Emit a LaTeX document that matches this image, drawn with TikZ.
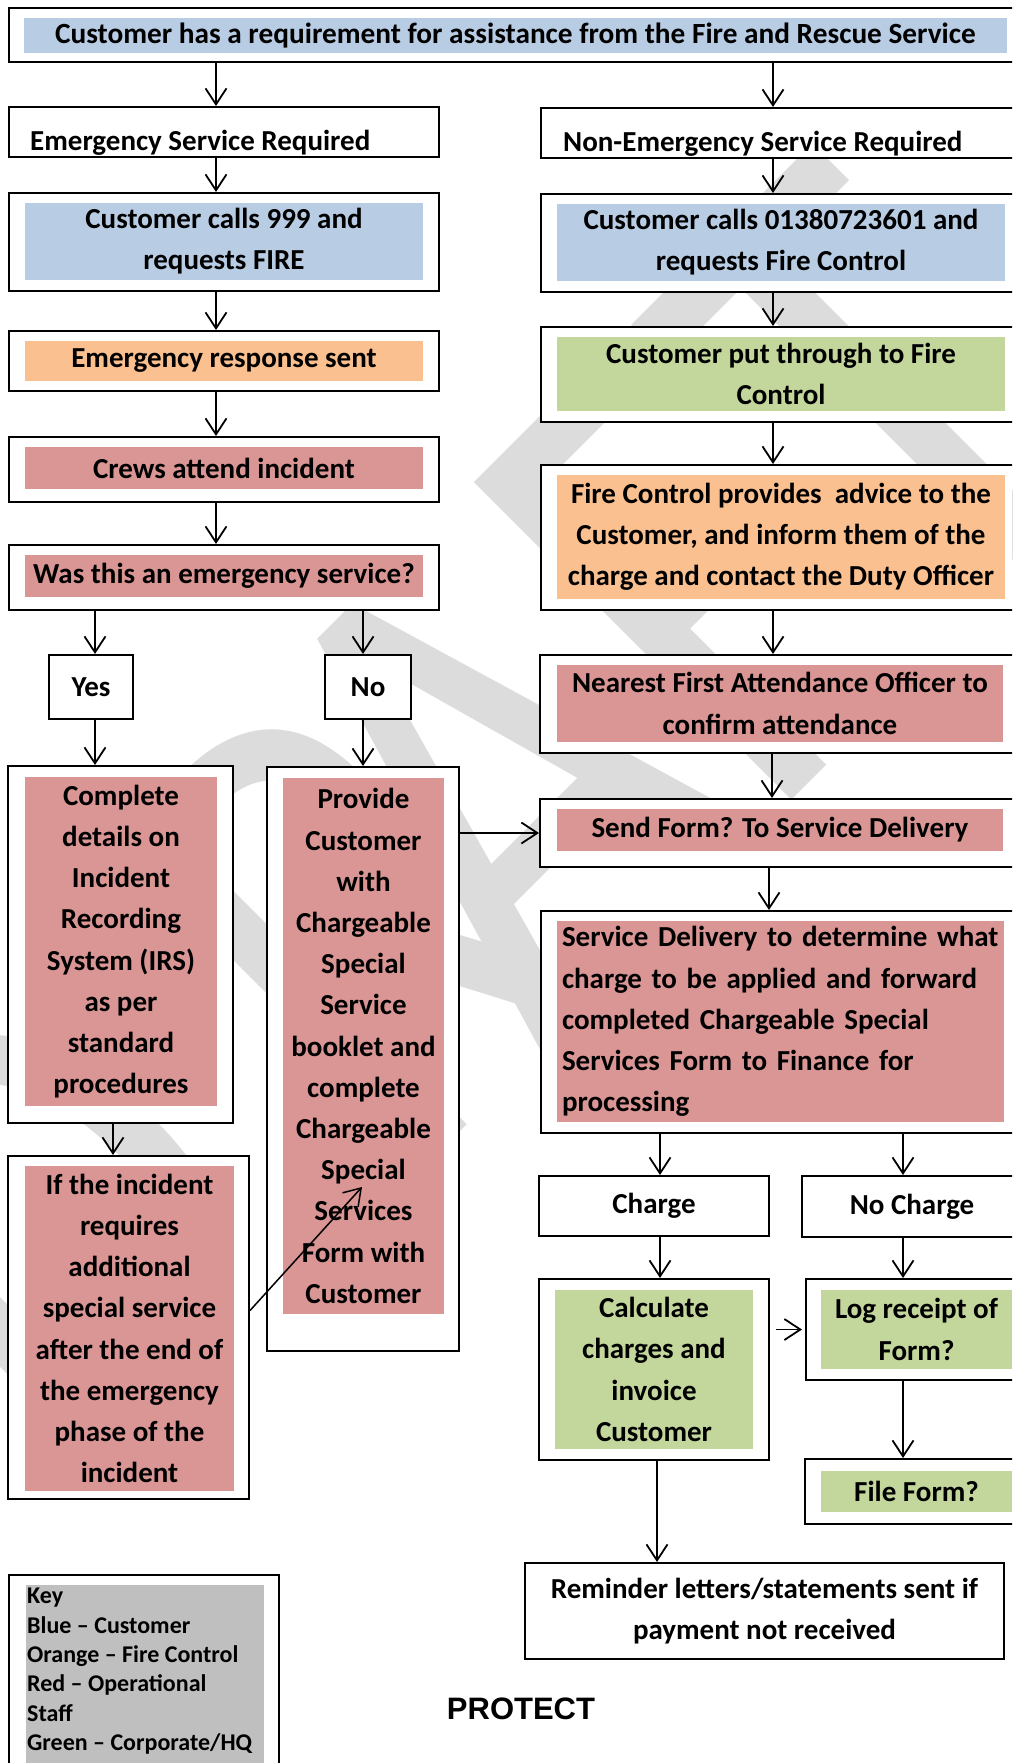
\documentclass[tikz,border=0pt]{standalone}
\usepackage{fontspec}
\setmainfont{Carlito}
\newfontfamily\arialfont{Liberation Sans}
\usetikzlibrary{arrows.meta,calc}
\definecolor{cblue}{HTML}{B8CCE4}
\definecolor{corange}{HTML}{FAC090}
\definecolor{cred}{HTML}{D99694}
\definecolor{cgreen}{HTML}{C3D69B}
\definecolor{ckey}{HTML}{BFBFBF}
\definecolor{wmgray}{HTML}{DCDCDC}
\newcommand\mainfs{\fontsize{29}{41.2}\selectfont\bfseries}
\newcommand\keyfs{\fontsize{24}{29.4}\selectfont\bfseries}
\tikzset{
  obox/.style={draw=black, line width=2pt, fill=white, inner sep=0pt},
  ibox/.style={inner sep=0pt, font=\mainfs, align=center},
  arr/.style={-{Straight Barb[length=16pt,width=21pt]}, line width=1.8pt},
}
\begin{document}
\begin{tikzpicture}[x=1pt,y=-1pt]
\useasboundingbox (0,0) rectangle (1012,1763);
\clip (0,0) rectangle (1012,1763);
\fill[white] (0,0) rectangle (1012,1763);
% watermark
\node[transform shape, rotate=45, xscale=5.53, yscale=7.0, text=wmgray, inner sep=0pt,
  font=\fontsize{100}{100}\selectfont\mdseries] (wm) at (452.1,822.7) {D\kern0.2em R\kern-0.2em AFT};
% column coordinates
\coordinate (cL) at (216,0);
\coordinate (cR) at (773,0);
\coordinate (cR2) at (772,0);
\coordinate (cR3) at (769,0);
\coordinate (cY) at (95,0);
\coordinate (cN) at (363,0);
\coordinate (cC) at (113,0);
\coordinate (cCh) at (660,0);
\coordinate (cNc) at (903,0);
\coordinate (cCa) at (657,0);
% top
\node[obox, minimum width=1007, minimum height=54] (top) at (512.5,35) {};
\node[ibox, fill=cblue, minimum width=983, minimum height=35] (topt) at (515.5,35.5) {\fontsize{29.3}{41.2}\selectfont Customer has a requirement for assistance from the Fire and Rescue Service};
% left column
\node[obox, minimum width=430, minimum height=50] (esr) at (224,132) {};
\begin{scope}
\clip (9,107) rectangle (439,156);
\node[font=\mainfs, anchor=base west, inner sep=0pt] (esrt) at (30,151) {Emergency Service Required};
\end{scope}
\node[obox, minimum width=430, minimum height=98] (c999) at (224,242) {};
\node[ibox, fill=cblue, minimum width=398, minimum height=77] (c999t) at (224,241.5) {Customer calls 999 and\\requests FIRE};
\node[obox, minimum width=430, minimum height=60] (resp) at (224,361) {};
\node[ibox, fill=corange, minimum width=398, minimum height=40] (respt) at (224,361) {Emergency response sent};
\node[obox, minimum width=430, minimum height=65] (crew) at (224,469.5) {};
\node[ibox, fill=cred, minimum width=398, minimum height=42] (crewt) at (224,468) {Crews attend incident};
\node[obox, minimum width=430, minimum height=65] (was) at (224,577.5) {};
\node[ibox, fill=cred, minimum width=398, minimum height=42] (wast) at (224,576) {Was this an emergency service?};
\node[obox, minimum width=84, minimum height=64, font=\mainfs] (yes) at (91,687) {Yes};
\node[obox, minimum width=86, minimum height=64, font=\mainfs] (no) at (368,687) {No};
\node[obox, minimum width=225, minimum height=357] (comp) at (120.5,944.5) {};
\node[ibox, fill=cred, minimum width=192, minimum height=329] (compt) at (121,941.5) {Complete\\details on\\Incident\\Recording\\System (IRS)\\as per\\standard\\procedures};
\node[obox, minimum width=192, minimum height=584] (prov) at (363,1059) {};
\node[ibox, fill=cred, minimum width=161, minimum height=536] (provt) at (363.5,1046) {Provide\\Customer\\with\\Chargeable\\Special\\Service\\booklet and\\complete\\Chargeable\\Special\\Services\\Form with\\Customer};
\node[obox, minimum width=241, minimum height=343] (ifb) at (128.5,1327.5) {};
\node[ibox, fill=cred, minimum width=209, minimum height=325] (ifbt) at (129.5,1328.5) {If the incident\\requires\\additional\\special service\\after the end of\\the emergency\\phase of the\\incident};
% right column
\node[obox, minimum width=475, minimum height=50] (nesr) at (778.5,133) {};
\node[font=\mainfs, anchor=base west, inner sep=0pt] (nesrt) at (563,152) {Non-Emergency Service Required};
\node[obox, minimum width=475, minimum height=98] (c013) at (778.5,243) {};
\node[ibox, fill=cblue, minimum width=448, minimum height=77] (c013t) at (781,242.5) {Customer calls 01380723601 and\\requests Fire Control};
\node[obox, minimum width=475, minimum height=95] (put) at (778.5,374.5) {};
\node[ibox, fill=cgreen, minimum width=448, minimum height=74] (putt) at (781,374) {Customer put through to Fire\\Control};
\node[obox, minimum width=475, minimum height=145] (fc) at (778.5,537.5) {};
\node[ibox, fill=corange, minimum width=448, minimum height=124] (fct) at (781,537) {Fire Control provides\ \ advice to the\\Customer, and inform them of the\\charge and contact the Duty Officer};
\node[obox, minimum width=476, minimum height=98] (near) at (778,704) {};
\node[ibox, fill=cred, minimum width=446, minimum height=77] (neart) at (780,703.5) {Nearest First Attendance Officer to\\confirm attendance};
\node[obox, minimum width=476, minimum height=68] (send) at (778,833) {};
\node[ibox, fill=cred, minimum width=446, minimum height=42] (sendt) at (780,830) {Send Form? To Service Delivery};
\node[obox, minimum width=475, minimum height=222] (sd) at (778.5,1022) {};
\node[inner sep=0pt, inner xsep=5pt, font=\mainfs, align=left, fill=cred, text width=437, minimum height=201] (sdt) at (780.5,1021.5) {Service Delivery to determine what\\charge to be applied and forward\\completed Chargeable Special\\Services Form to Finance for\\processing};
\node[obox, minimum width=230, minimum height=60, font=\mainfs] (chg) at (654,1206) {Charge};
\node[obox, minimum width=214, minimum height=61] (nochg) at (909,1206.5) {};
\node[font=\mainfs, inner sep=0pt] (nochgt) at (912,1206.5) {No Charge};
\node[obox, minimum width=230, minimum height=181] (calc) at (654,1369.5) {};
\node[ibox, fill=cgreen, minimum width=198, minimum height=159] (calct) at (654,1369.5) {Calculate\\charges and\\invoice\\Customer};
\node[obox, minimum width=210, minimum height=101] (logb) at (911,1329.5) {};
\node[ibox, fill=cgreen, minimum width=191, minimum height=79] (logt) at (916.5,1329.5) {Log receipt of\\Form?};
\node[obox, minimum width=211, minimum height=65] (file) at (910.5,1491.5) {};
\node[ibox, fill=cgreen, minimum width=191, minimum height=41] (filet) at (916.5,1491.5) {File Form?};
\node[obox, minimum width=479, minimum height=96, font=\mainfs, align=center] (rem) at (764.5,1611) {Reminder letters/statements sent if\\payment not received};
% key
\node[obox, minimum width=270, minimum height=200] (key) at (144,1675) {};
\fill[ckey] (26,1585) rectangle (264,1770);
\node[font=\keyfs, align=left, anchor=north west, inner sep=0pt] (keyt) at (27,1588) {Key\\Blue -- Customer\\Orange -- Fire Control\\Red -- Operational\\Staff\\Green -- Corporate/HQ};
\node[font=\arialfont\fontsize{31}{31}\selectfont\bfseries, inner sep=0pt] (prot) at (521,1709) {PROTECT};
% arrows
\draw[arr] (top.south -| cL) -- (esr.north -| cL);
\draw[arr] (top.south -| cR) -- (nesr.north -| cR);
\draw[arr] (esr.south -| cL) -- (c999.north -| cL);
\draw[arr] (c999.south -| cL) -- (resp.north -| cL);
\draw[arr] (resp.south -| cL) -- (crew.north -| cL);
\draw[arr] (crew.south -| cL) -- (was.north -| cL);
\draw[arr] (was.south -| cY) -- (yes.north -| cY);
\draw[arr] (was.south -| cN) -- (no.north -| cN);
\draw[arr] (yes.south -| cY) -- (comp.north -| cY);
\draw[arr] (no.south -| cN) -- (prov.north -| cN);
\draw[arr] (comp.south -| cC) -- (ifb.north -| cC);
\coordinate (diagE) at (362,1187);
\draw[arr, line width=1.5pt] ([yshift=17pt]ifb.east) -- (diagE);
\draw[arr] (prov.east |- send.west) -- (send.west);
\draw[arr] (nesr.south -| cR) -- (c013.north -| cR);
\draw[arr] (c013.south -| cR) -- (put.north -| cR);
\draw[arr] (put.south -| cR) -- (fc.north -| cR);
\draw[arr] (fc.south -| cR) -- (near.north -| cR);
\draw[arr] (near.south -| cR2) -- (send.north -| cR2);
\draw[arr] (send.south -| cR3) -- (sd.north -| cR3);
\draw[arr] (sd.south -| cCh) -- (chg.north -| cCh);
\draw[arr] (sd.south -| cNc) -- (nochg.north -| cNc);
\draw[arr] (chg.south -| cCh) -- (calc.north -| cCh);
\draw[arr] (nochg.south -| cNc) -- (logb.north -| cNc);
\draw[arr] (logb.south -| cNc) -- (file.north -| cNc);
\draw[arr] (calc.south -| cCa) -- (rem.north -| cCa);
\coordinate (ca) at ([xshift=6pt]calc.east);
\coordinate (lw) at ([xshift=-3pt]logb.west);
\draw[arr] (ca |- lw) -- (lw);
\end{tikzpicture}
\end{document}
